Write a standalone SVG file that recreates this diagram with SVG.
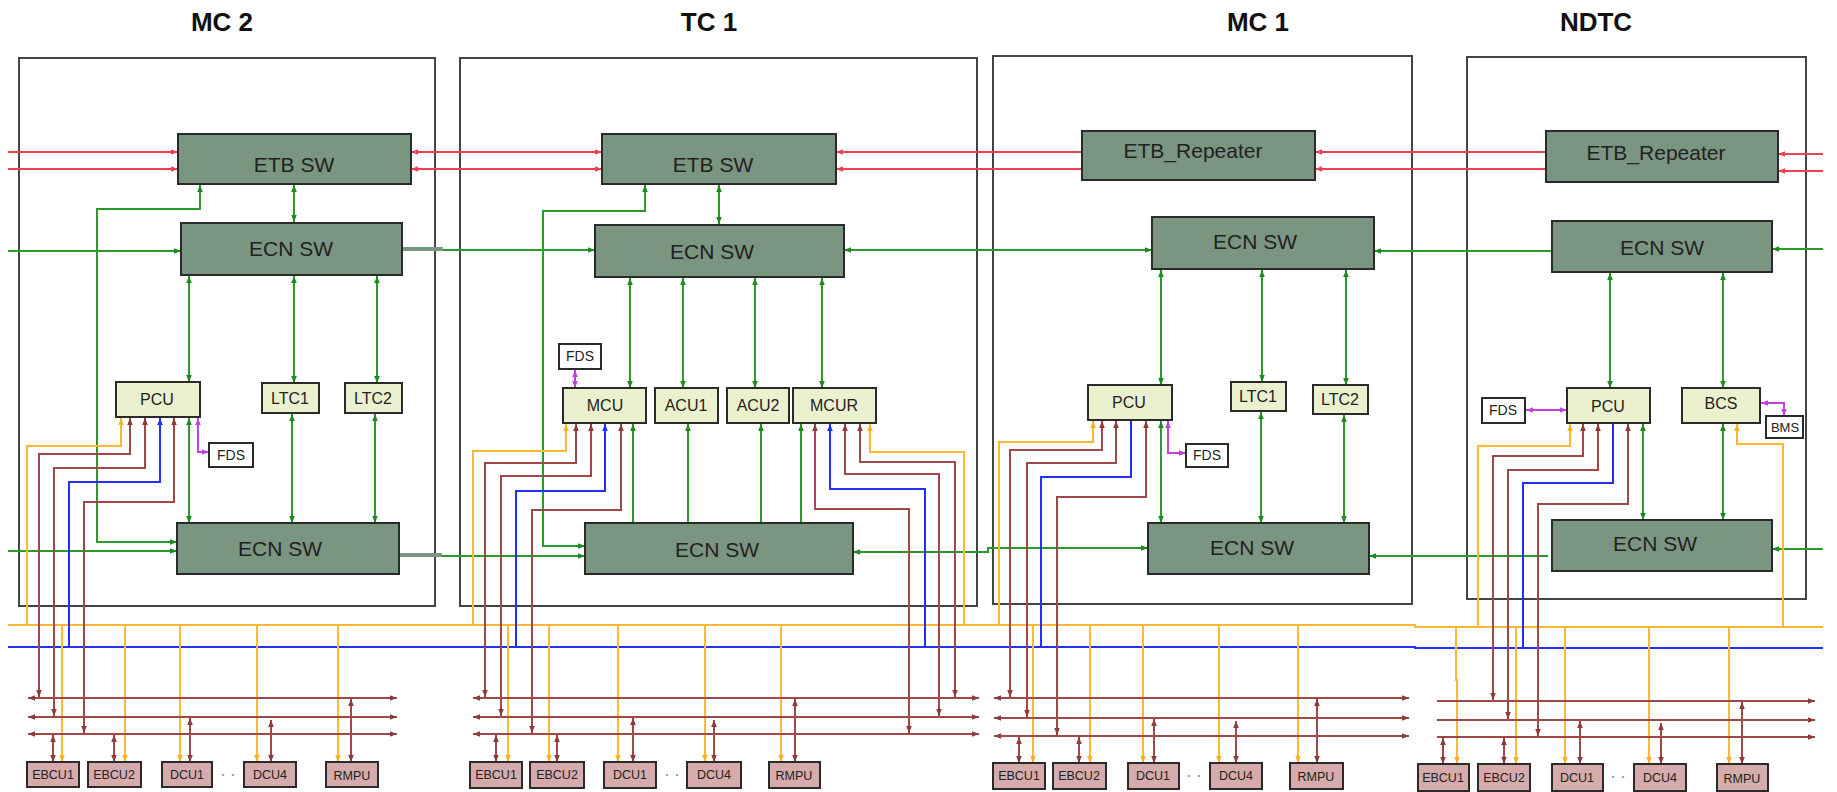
<svg xmlns="http://www.w3.org/2000/svg" width="1837" height="792" viewBox="0 0 1837 792">
<style>
text{font-family:"Liberation Sans",Arial,sans-serif;fill:#222;text-anchor:middle}
.title{font-size:26px;font-weight:bold;fill:#111}
.car{fill:none;stroke:#444;stroke-width:2}
.sw rect{fill:#7a9580;stroke:#2a2a2a;stroke-width:2}
.sw text{font-size:21px}
.lt rect{fill:#ebf1cf;stroke:#2a2a2a;stroke-width:2}
.lt text{font-size:16px}
.wh rect{fill:#fff;stroke:#2a2a2a;stroke-width:2}
.wh text{font-size:14px}
.dev rect{fill:#d6abab;stroke:#2a2a2a;stroke-width:2}
.dev text{font-size:12.5px}
.dots{font-size:18px;fill:#7a98c0}
#connectors path{fill:none;stroke-width:2}
.r{stroke:#f0404f}
.g{stroke:#2a9a2a}
.o{stroke:#ffb833}
.b{stroke:#2030ff}
.br{stroke:#a04848}
.m{stroke:#c040e0}
#connectors .stub{stroke:#7a9580;stroke-width:4}
</style>
<defs>
<marker id="aR" viewBox="0 0 10 10" refX="10" refY="5" markerWidth="7" markerHeight="7" markerUnits="userSpaceOnUse" orient="auto-start-reverse"><path d="M0,1 L10,5 L0,9 z" fill="#f0404f"/></marker>
<marker id="aG" viewBox="0 0 10 10" refX="10" refY="5" markerWidth="7" markerHeight="7" markerUnits="userSpaceOnUse" orient="auto-start-reverse"><path d="M0,1 L10,5 L0,9 z" fill="#1e8a1e"/></marker>
<marker id="aO" viewBox="0 0 10 10" refX="10" refY="5" markerWidth="7" markerHeight="7" markerUnits="userSpaceOnUse" orient="auto-start-reverse"><path d="M0,1 L10,5 L0,9 z" fill="#ffb020"/></marker>
<marker id="aB" viewBox="0 0 10 10" refX="10" refY="5" markerWidth="7" markerHeight="7" markerUnits="userSpaceOnUse" orient="auto-start-reverse"><path d="M0,1 L10,5 L0,9 z" fill="#2030ff"/></marker>
<marker id="aBr" viewBox="0 0 10 10" refX="10" refY="5" markerWidth="7" markerHeight="7" markerUnits="userSpaceOnUse" orient="auto-start-reverse"><path d="M0,1 L10,5 L0,9 z" fill="#8e3a3a"/></marker>
<marker id="aM" viewBox="0 0 10 10" refX="10" refY="5" markerWidth="7" markerHeight="7" markerUnits="userSpaceOnUse" orient="auto-start-reverse"><path d="M0,1 L10,5 L0,9 z" fill="#c040e0"/></marker>
</defs>
<rect width="1837" height="792" fill="#fff"/>

<!-- titles -->
<text class="title" x="222" y="31">MC 2</text>
<text class="title" x="709" y="31">TC 1</text>
<text class="title" x="1258" y="31">MC 1</text>
<text class="title" x="1596" y="31">NDTC</text>

<!-- car outlines -->
<g id="car-mc2"><rect class="car" x="19" y="58" width="416" height="548"/></g>
<g id="car-tc1"><rect class="car" x="460" y="58" width="517" height="548"/></g>
<g id="car-mc1"><rect class="car" x="993" y="56" width="419" height="548"/></g>
<g id="car-ndtc"><rect class="car" x="1467" y="57" width="339" height="542"/></g>

<g id="connectors">
<!-- red ETB lines -->
<path class="r" d="M8,152 H178" marker-end="url(#aR)"/>
<path class="r" d="M8,169 H178" marker-end="url(#aR)"/>
<path class="r" d="M411,152 H602" marker-start="url(#aR)" marker-end="url(#aR)"/>
<path class="r" d="M411,169 H602" marker-start="url(#aR)" marker-end="url(#aR)"/>
<path class="r" d="M836,152 H1082" marker-start="url(#aR)"/>
<path class="r" d="M836,169 H1082" marker-start="url(#aR)"/>
<path class="r" d="M1315,152 H1546" marker-start="url(#aR)"/>
<path class="r" d="M1315,169 H1546" marker-start="url(#aR)"/>
<path class="r" d="M1823,154 H1778" marker-end="url(#aR)"/>
<path class="r" d="M1823,171 H1778" marker-end="url(#aR)"/>

<!-- green ECN trunk, upper -->
<path class="g" d="M8,251 H181" marker-end="url(#aG)"/>
<path class="stub" d="M402,249 H443"/>
<path class="g" d="M443,250 H595" marker-end="url(#aG)"/>
<path class="g" d="M844,250 H1152" marker-start="url(#aG)" marker-end="url(#aG)"/>
<path class="g" d="M1374,251 H1552" marker-start="url(#aG)"/>
<path class="g" d="M1823,249 H1772" marker-end="url(#aG)"/>
<!-- green ECN trunk, lower -->
<path class="g" d="M8,551 H177" marker-end="url(#aG)"/>
<path class="stub" d="M399,555 H442"/>
<path class="g" d="M442,556 H585" marker-end="url(#aG)"/>
<path class="g" d="M853,552 H988 V548 H1148" marker-start="url(#aG)" marker-end="url(#aG)"/>
<path class="g" d="M1369,556 H1548" marker-start="url(#aG)"/>
<path class="g" d="M1823,549 H1772" marker-end="url(#aG)"/>

<!-- MC2 green internal -->
<path class="g" d="M294,185 V222" marker-start="url(#aG)" marker-end="url(#aG)"/>
<path class="g" d="M200,185 V209 H97 V542 H177" marker-start="url(#aG)" marker-end="url(#aG)"/>
<path class="g" d="M189,276 V382" marker-start="url(#aG)" marker-end="url(#aG)"/>
<path class="g" d="M294,276 V383" marker-start="url(#aG)" marker-end="url(#aG)"/>
<path class="g" d="M377,276 V383" marker-start="url(#aG)" marker-end="url(#aG)"/>
<path class="g" d="M189,418 V523" marker-start="url(#aG)" marker-end="url(#aG)"/>
<path class="g" d="M292,414 V523" marker-start="url(#aG)" marker-end="url(#aG)"/>
<path class="g" d="M375,414 V523" marker-start="url(#aG)" marker-end="url(#aG)"/>

<!-- TC1 green internal -->
<path class="g" d="M719,185 V224" marker-start="url(#aG)" marker-end="url(#aG)"/>
<path class="g" d="M645,185 V211 H543 V546 H585" marker-start="url(#aG)" marker-end="url(#aG)"/>
<path class="g" d="M630,278 V388" marker-start="url(#aG)" marker-end="url(#aG)"/>
<path class="g" d="M683,278 V388" marker-start="url(#aG)" marker-end="url(#aG)"/>
<path class="g" d="M755,278 V388" marker-start="url(#aG)" marker-end="url(#aG)"/>
<path class="g" d="M822,278 V388" marker-start="url(#aG)" marker-end="url(#aG)"/>
<path class="g" d="M633,523 V424" marker-end="url(#aG)"/>
<path class="g" d="M688,523 V424" marker-end="url(#aG)"/>
<path class="g" d="M761,523 V424" marker-end="url(#aG)"/>
<path class="g" d="M801,523 V424" marker-end="url(#aG)"/>

<!-- MC1 green internal -->
<path class="g" d="M1161,270 V385" marker-start="url(#aG)" marker-end="url(#aG)"/>
<path class="g" d="M1262,270 V382" marker-start="url(#aG)" marker-end="url(#aG)"/>
<path class="g" d="M1346,270 V385" marker-start="url(#aG)" marker-end="url(#aG)"/>
<path class="g" d="M1161,421 V523" marker-start="url(#aG)" marker-end="url(#aG)"/>
<path class="g" d="M1261,412 V523" marker-start="url(#aG)" marker-end="url(#aG)"/>
<path class="g" d="M1344,415 V523" marker-start="url(#aG)" marker-end="url(#aG)"/>

<!-- NDTC green internal -->
<path class="g" d="M1610,273 V388" marker-start="url(#aG)" marker-end="url(#aG)"/>
<path class="g" d="M1723,273 V388" marker-start="url(#aG)" marker-end="url(#aG)"/>
<path class="g" d="M1643,424 V520" marker-start="url(#aG)" marker-end="url(#aG)"/>
<path class="g" d="M1723,424 V520" marker-start="url(#aG)" marker-end="url(#aG)"/>

<!-- magenta FDS / BMS links -->
<path class="m" d="M198,418 V452 H209" marker-start="url(#aM)" marker-end="url(#aM)"/>
<path class="m" d="M575,370 V388" marker-start="url(#aM)" marker-end="url(#aM)"/>
<path class="m" d="M1168,421 V453 H1186" marker-start="url(#aM)" marker-end="url(#aM)"/>
<path class="m" d="M1526,410 H1567" marker-start="url(#aM)" marker-end="url(#aM)"/>
<path class="m" d="M1761,403 H1784 V416" marker-start="url(#aM)" marker-end="url(#aM)"/>

<!-- orange and blue buses -->
<path class="o" d="M8,625 H1415 V627 H1823"/>
<path class="b" d="M8,647 H1415 V648 H1823"/>

<!-- orange risers from units -->
<path class="o" d="M121,418 V446 H27 V625" marker-start="url(#aO)"/>
<path class="o" d="M566,424 V451 H473 V625" marker-start="url(#aO)"/>
<path class="o" d="M870,424 V452 H964 V625" marker-start="url(#aO)"/>
<path class="o" d="M1093,421 V442 H999 V625" marker-start="url(#aO)"/>
<path class="o" d="M1570,424 V446 H1478 V627" marker-start="url(#aO)"/>
<path class="o" d="M1737,424 V444 H1783 V627" marker-start="url(#aO)"/>

<!-- orange drops to devices -->
<path class="o" d="M62,625 V762" marker-end="url(#aO)"/>
<path class="o" d="M125,625 V762" marker-end="url(#aO)"/>
<path class="o" d="M180,625 V762" marker-end="url(#aO)"/>
<path class="o" d="M257,625 V762" marker-end="url(#aO)"/>
<path class="o" d="M338,625 V762" marker-end="url(#aO)"/>
<path class="o" d="M508,625 V762" marker-end="url(#aO)"/>
<path class="o" d="M549,625 V762" marker-end="url(#aO)"/>
<path class="o" d="M618,625 V762" marker-end="url(#aO)"/>
<path class="o" d="M705,625 V762" marker-end="url(#aO)"/>
<path class="o" d="M781,625 V762" marker-end="url(#aO)"/>
<path class="o" d="M1033,625 V763" marker-end="url(#aO)"/>
<path class="o" d="M1090,625 V763" marker-end="url(#aO)"/>
<path class="o" d="M1143,625 V763" marker-end="url(#aO)"/>
<path class="o" d="M1219,625 V763" marker-end="url(#aO)"/>
<path class="o" d="M1298,625 V763" marker-end="url(#aO)"/>
<path class="o" d="M1456,627 V680 H1457 V764" marker-end="url(#aO)"/>
<path class="o" d="M1516,627 V764" marker-end="url(#aO)"/>
<path class="o" d="M1565,627 V764" marker-end="url(#aO)"/>
<path class="o" d="M1649,627 V764" marker-end="url(#aO)"/>
<path class="o" d="M1729,627 V764" marker-end="url(#aO)"/>

<!-- blue risers -->
<path class="b" d="M160,418 V482 H69 V647" marker-start="url(#aB)"/>
<path class="b" d="M605,424 V491 H516 V647" marker-start="url(#aB)"/>
<path class="b" d="M830,424 V489 H925 V647" marker-start="url(#aB)"/>
<path class="b" d="M1131,420 V477 H1041 V647"/>
<path class="b" d="M1613,423 V483 H1523 V648"/>

<!-- brown train lines -->
<path class="br" d="M28,698 H397" marker-start="url(#aBr)" marker-end="url(#aBr)"/>
<path class="br" d="M28,717 H397" marker-start="url(#aBr)" marker-end="url(#aBr)"/>
<path class="br" d="M28,734 H397" marker-start="url(#aBr)" marker-end="url(#aBr)"/>
<path class="br" d="M473,698 H979" marker-start="url(#aBr)" marker-end="url(#aBr)"/>
<path class="br" d="M473,717 H979" marker-start="url(#aBr)" marker-end="url(#aBr)"/>
<path class="br" d="M473,734 H979" marker-start="url(#aBr)" marker-end="url(#aBr)"/>
<path class="br" d="M994,698 H1409" marker-start="url(#aBr)" marker-end="url(#aBr)"/>
<path class="br" d="M994,718 H1409" marker-start="url(#aBr)" marker-end="url(#aBr)"/>
<path class="br" d="M994,736 H1409" marker-start="url(#aBr)" marker-end="url(#aBr)"/>
<path class="br" d="M1437,701 H1815" marker-end="url(#aBr)"/>
<path class="br" d="M1437,720 H1815" marker-end="url(#aBr)"/>
<path class="br" d="M1437,737 H1815" marker-end="url(#aBr)"/>

<!-- brown risers from units -->
<path class="br" d="M130,418 V454 H39 V697" marker-start="url(#aBr)" marker-end="url(#aBr)"/>
<path class="br" d="M145,418 V468 H54 V716" marker-start="url(#aBr)" marker-end="url(#aBr)"/>
<path class="br" d="M174,418 V502 H84 V733" marker-start="url(#aBr)" marker-end="url(#aBr)"/>
<path class="br" d="M576,424 V463 H485 V697" marker-start="url(#aBr)" marker-end="url(#aBr)"/>
<path class="br" d="M591,424 V476 H501 V716" marker-start="url(#aBr)" marker-end="url(#aBr)"/>
<path class="br" d="M621,424 V510 H532 V733" marker-start="url(#aBr)" marker-end="url(#aBr)"/>
<path class="br" d="M815,424 V509 H909 V733" marker-start="url(#aBr)" marker-end="url(#aBr)"/>
<path class="br" d="M845,424 V474 H939 V716" marker-start="url(#aBr)" marker-end="url(#aBr)"/>
<path class="br" d="M860,424 V462 H955 V697" marker-start="url(#aBr)" marker-end="url(#aBr)"/>
<path class="br" d="M1102,421 V450 H1010 V697" marker-start="url(#aBr)" marker-end="url(#aBr)"/>
<path class="br" d="M1116,421 V463 H1027 V717" marker-start="url(#aBr)" marker-end="url(#aBr)"/>
<path class="br" d="M1146,421 V497 H1057 V735" marker-start="url(#aBr)" marker-end="url(#aBr)"/>
<path class="br" d="M1583,424 V456 H1493 V700" marker-start="url(#aBr)" marker-end="url(#aBr)"/>
<path class="br" d="M1598,424 V470 H1508 V719" marker-start="url(#aBr)" marker-end="url(#aBr)"/>
<path class="br" d="M1628,424 V504 H1538 V736" marker-start="url(#aBr)" marker-end="url(#aBr)"/>

<!-- brown device links -->
<path class="br" d="M53,735 V762" marker-start="url(#aBr)" marker-end="url(#aBr)"/>
<path class="br" d="M114,735 V762" marker-start="url(#aBr)" marker-end="url(#aBr)"/>
<path class="br" d="M190,718 V762" marker-start="url(#aBr)" marker-end="url(#aBr)"/>
<path class="br" d="M271,720 V762" marker-start="url(#aBr)" marker-end="url(#aBr)"/>
<path class="br" d="M351,699 V762" marker-start="url(#aBr)" marker-end="url(#aBr)"/>
<path class="br" d="M496,735 V762" marker-start="url(#aBr)" marker-end="url(#aBr)"/>
<path class="br" d="M557,735 V762" marker-start="url(#aBr)" marker-end="url(#aBr)"/>
<path class="br" d="M633,718 V762" marker-start="url(#aBr)" marker-end="url(#aBr)"/>
<path class="br" d="M714,720 V762" marker-start="url(#aBr)" marker-end="url(#aBr)"/>
<path class="br" d="M795,699 V762" marker-start="url(#aBr)" marker-end="url(#aBr)"/>
<path class="br" d="M1019,737 V763" marker-start="url(#aBr)" marker-end="url(#aBr)"/>
<path class="br" d="M1079,737 V763" marker-start="url(#aBr)" marker-end="url(#aBr)"/>
<path class="br" d="M1154,719 V763" marker-start="url(#aBr)" marker-end="url(#aBr)"/>
<path class="br" d="M1236,721 V763" marker-start="url(#aBr)" marker-end="url(#aBr)"/>
<path class="br" d="M1317,699 V763" marker-start="url(#aBr)" marker-end="url(#aBr)"/>
<path class="br" d="M1443,738 V764" marker-start="url(#aBr)" marker-end="url(#aBr)"/>
<path class="br" d="M1504,738 V764" marker-start="url(#aBr)" marker-end="url(#aBr)"/>
<path class="br" d="M1580,721 V764" marker-start="url(#aBr)" marker-end="url(#aBr)"/>
<path class="br" d="M1661,723 V764" marker-start="url(#aBr)" marker-end="url(#aBr)"/>
<path class="br" d="M1742,702 V764" marker-start="url(#aBr)" marker-end="url(#aBr)"/>
</g>

<!-- MC2 nodes -->
<g id="mc2-etb" class="sw"><rect x="178" y="134" width="233" height="50"/><text x="294" y="172">ETB SW</text></g>
<g id="mc2-ecn1" class="sw"><rect x="181" y="223" width="221" height="52"/><text x="291" y="256">ECN SW</text></g>
<g id="mc2-ecn2" class="sw"><rect x="177" y="523" width="222" height="51"/><text x="280" y="556">ECN SW</text></g>
<g id="mc2-pcu" class="lt"><rect x="116" y="382" width="84" height="35"/><text x="157" y="405">PCU</text></g>
<g id="mc2-ltc1" class="lt"><rect x="262" y="383" width="57" height="30"/><text x="290" y="404">LTC1</text></g>
<g id="mc2-ltc2" class="lt"><rect x="345" y="383" width="57" height="30"/><text x="373" y="404">LTC2</text></g>
<g id="mc2-fds" class="wh"><rect x="209" y="443" width="44" height="24"/><text x="231" y="460">FDS</text></g>
<g id="mc2-ebcu1" class="dev"><rect x="27" y="762" width="52" height="25"/><text x="53" y="779">EBCU1</text></g>
<g id="mc2-ebcu2" class="dev"><rect x="88" y="762" width="53" height="25"/><text x="114" y="779">EBCU2</text></g>
<g id="mc2-dcu1" class="dev"><rect x="162" y="762" width="50" height="25"/><text x="187" y="779">DCU1</text></g>
<g id="mc2-dcu4" class="dev"><rect x="244" y="762" width="52" height="25"/><text x="270" y="779">DCU4</text></g>
<g id="mc2-rmpu" class="dev"><rect x="326" y="762" width="52" height="25"/><text x="352" y="780">RMPU</text></g>
<text class="dots" x="228" y="776">. .</text>

<!-- TC1 nodes -->
<g id="tc1-etb" class="sw"><rect x="602" y="134" width="234" height="50"/><text x="713" y="172">ETB SW</text></g>
<g id="tc1-ecn1" class="sw"><rect x="595" y="225" width="249" height="52"/><text x="712" y="259">ECN SW</text></g>
<g id="tc1-ecn2" class="sw"><rect x="585" y="523" width="268" height="51"/><text x="717" y="557">ECN SW</text></g>
<g id="tc1-fds" class="wh"><rect x="559" y="344" width="42" height="25"/><text x="580" y="361">FDS</text></g>
<g id="tc1-mcu" class="lt"><rect x="563" y="388" width="83" height="35"/><text x="605" y="411">MCU</text></g>
<g id="tc1-acu1" class="lt"><rect x="655" y="388" width="63" height="35"/><text x="686" y="411">ACU1</text></g>
<g id="tc1-acu2" class="lt"><rect x="727" y="388" width="62" height="35"/><text x="758" y="411">ACU2</text></g>
<g id="tc1-mcur" class="lt"><rect x="793" y="388" width="83" height="35"/><text x="834" y="411">MCUR</text></g>
<g id="tc1-ebcu1" class="dev"><rect x="470" y="762" width="52" height="26"/><text x="496" y="779">EBCU1</text></g>
<g id="tc1-ebcu2" class="dev"><rect x="530" y="762" width="54" height="26"/><text x="557" y="779">EBCU2</text></g>
<g id="tc1-dcu1" class="dev"><rect x="604" y="762" width="52" height="26"/><text x="630" y="779">DCU1</text></g>
<g id="tc1-dcu4" class="dev"><rect x="687" y="762" width="54" height="26"/><text x="714" y="779">DCU4</text></g>
<g id="tc1-rmpu" class="dev"><rect x="769" y="762" width="51" height="26"/><text x="794" y="780">RMPU</text></g>
<text class="dots" x="672" y="776">. .</text>

<!-- MC1 nodes -->
<g id="mc1-etbr" class="sw"><rect x="1082" y="131" width="233" height="49"/><text x="1193" y="158">ETB_Repeater</text></g>
<g id="mc1-ecn1" class="sw"><rect x="1152" y="217" width="222" height="52"/><text x="1255" y="249">ECN SW</text></g>
<g id="mc1-ecn2" class="sw"><rect x="1148" y="523" width="221" height="51"/><text x="1252" y="555">ECN SW</text></g>
<g id="mc1-pcu" class="lt"><rect x="1088" y="385" width="84" height="35"/><text x="1129" y="408">PCU</text></g>
<g id="mc1-ltc1" class="lt"><rect x="1231" y="382" width="55" height="29"/><text x="1258" y="402">LTC1</text></g>
<g id="mc1-ltc2" class="lt"><rect x="1313" y="385" width="55" height="29"/><text x="1340" y="405">LTC2</text></g>
<g id="mc1-fds" class="wh"><rect x="1186" y="444" width="42" height="23"/><text x="1207" y="460">FDS</text></g>
<g id="mc1-ebcu1" class="dev"><rect x="993" y="763" width="52" height="26"/><text x="1019" y="780">EBCU1</text></g>
<g id="mc1-ebcu2" class="dev"><rect x="1053" y="763" width="53" height="26"/><text x="1079" y="780">EBCU2</text></g>
<g id="mc1-dcu1" class="dev"><rect x="1128" y="763" width="51" height="26"/><text x="1153" y="780">DCU1</text></g>
<g id="mc1-dcu4" class="dev"><rect x="1210" y="763" width="52" height="26"/><text x="1236" y="780">DCU4</text></g>
<g id="mc1-rmpu" class="dev"><rect x="1290" y="763" width="53" height="26"/><text x="1316" y="781">RMPU</text></g>
<text class="dots" x="1194" y="777">. .</text>

<!-- NDTC nodes -->
<g id="ndtc-etbr" class="sw"><rect x="1546" y="131" width="232" height="51"/><text x="1656" y="160">ETB_Repeater</text></g>
<g id="ndtc-ecn1" class="sw"><rect x="1552" y="221" width="220" height="51"/><text x="1662" y="255">ECN SW</text></g>
<g id="ndtc-ecn2" class="sw"><rect x="1552" y="520" width="220" height="51"/><text x="1655" y="551">ECN SW</text></g>
<g id="ndtc-pcu" class="lt"><rect x="1567" y="388" width="83" height="35"/><text x="1608" y="412">PCU</text></g>
<g id="ndtc-bcs" class="lt"><rect x="1682" y="388" width="78" height="35"/><text x="1721" y="409">BCS</text></g>
<g id="ndtc-fds" class="wh"><rect x="1482" y="398" width="43" height="25"/><text x="1503" y="415">FDS</text></g>
<g id="ndtc-bms" class="wh"><rect x="1766" y="416" width="37" height="22"/><text x="1785" y="432" style="font-size:13px">BMS</text></g>
<g id="ndtc-ebcu1" class="dev"><rect x="1418" y="764" width="51" height="27"/><text x="1443" y="782">EBCU1</text></g>
<g id="ndtc-ebcu2" class="dev"><rect x="1478" y="764" width="52" height="27"/><text x="1504" y="782">EBCU2</text></g>
<g id="ndtc-dcu1" class="dev"><rect x="1552" y="764" width="51" height="27"/><text x="1577" y="782">DCU1</text></g>
<g id="ndtc-dcu4" class="dev"><rect x="1634" y="764" width="52" height="27"/><text x="1660" y="782">DCU4</text></g>
<g id="ndtc-rmpu" class="dev"><rect x="1717" y="764" width="51" height="27"/><text x="1742" y="783">RMPU</text></g>
<text class="dots" x="1618" y="778">. .</text>
</svg>
